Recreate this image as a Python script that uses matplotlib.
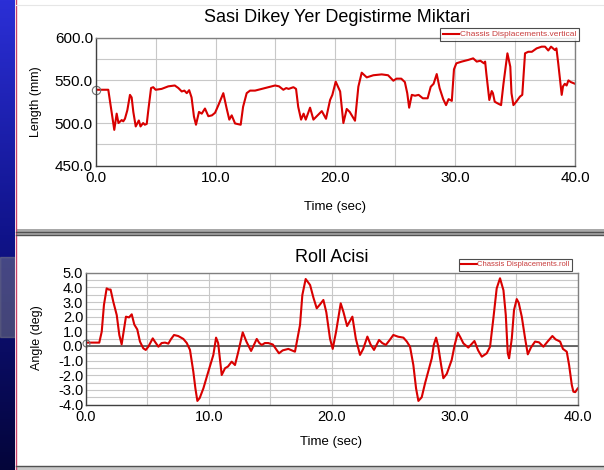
import numpy as np
import matplotlib
matplotlib.use('Agg')
import matplotlib.pyplot as plt
from matplotlib.lines import Line2D
from matplotlib.patches import Rectangle

plt.rcParams['font.family'] = ['Liberation Sans', 'DejaVu Sans']
plt.rcParams['axes.unicode_minus'] = False

# vertical chassis displacement (mm) vs time (s)
t_vert = [0.0, 1.05, 1.55, 1.75, 1.9, 2.17, 2.3, 2.44, 2.64, 2.86, 3.0, 3.14, 3.34, 3.6, 3.74,
          3.96, 4.1, 4.26, 4.39, 4.62, 4.8, 5.0, 5.5, 6.06, 6.6, 6.9, 7.18, 7.4, 7.6, 7.8, 8.0,
          8.2, 8.37, 8.62, 8.85, 9.12, 9.4, 9.7, 9.96, 10.24, 10.65, 10.93, 11.15, 11.35, 11.63,
          12.1, 12.3, 12.6, 12.88, 13.3, 13.86, 14.4, 14.97, 15.3, 15.66, 15.9, 16.1, 16.5,
          16.72, 16.9, 17.14, 17.35, 17.53, 17.89, 18.17, 18.45, 18.87, 19.22, 19.56, 19.75,
          20.03, 20.4, 20.67, 20.95, 21.2, 21.64, 21.92, 22.2, 22.62, 23.17, 23.87, 24.4, 24.84,
          25.1, 25.5, 25.8, 26.0, 26.16, 26.38, 26.65, 26.95, 27.3, 27.7, 27.96, 28.2, 28.46,
          28.7, 29.0, 29.24, 29.45, 29.72, 29.9, 30.1, 30.55, 31.1, 31.5, 31.8, 32.1, 32.4, 32.5,
          32.6, 32.85, 33.05, 33.15, 33.3, 33.55, 33.83, 34.03, 34.36, 34.6, 34.7, 34.86, 35.1,
          35.41, 35.6, 35.83, 36.1, 36.4, 36.8, 37.22, 37.5, 37.77, 38.0, 38.33, 38.45, 38.6,
          38.89, 39.0, 39.15, 39.3, 39.45, 39.65, 40.0]
vertical = [539, 539, 492, 511, 500, 503.5, 502, 505, 515, 533, 530, 513, 496, 503, 496,
            500, 498, 499, 515, 541, 542, 539, 540, 543, 544, 541, 537, 538, 535, 538.5, 530,
            507.5, 498, 513, 511, 517, 508, 509, 512, 521, 535, 517, 504, 509, 499.5,
            498, 519, 535, 538, 538, 540, 542, 544, 543, 539, 541, 540, 542,
            540, 519, 504, 511, 504, 518, 504, 508, 514, 505, 527, 533,
            548.5, 537, 500, 516.5, 513, 502.7, 542.6, 559, 553.5, 556, 557, 556, 549.6,
            552, 552, 548, 535, 518, 533, 532, 533, 529, 529, 542.5, 546, 557.4,
            541, 528, 521, 528, 526, 563, 570, 572, 574, 575.8, 572, 573, 570, 572,
            558, 527, 537.5, 535, 525, 523, 521, 546, 581.7, 566, 535, 521, 525,
            531, 533, 581.7, 583.5, 583.5, 587.5, 589.5, 589.5, 585, 589.5, 585.5, 587.5, 570,
            533, 543, 546, 544, 550, 548, 546]

# roll angle (deg) vs time (s)
t_roll = [0.0, 1.08, 1.28, 1.46, 1.68, 1.85, 2.0, 2.22, 2.5, 2.71, 2.9, 3.05, 3.25, 3.5, 3.72,
          3.93, 4.17, 4.39, 4.66, 4.86, 5.07, 5.43, 5.6, 5.89, 6.15, 6.43, 6.7, 6.9, 7.16, 7.5,
          7.92, 8.2, 8.46, 8.73, 8.9, 9.06, 9.25, 9.55, 9.95, 10.36, 10.58, 10.75, 11.04, 11.31,
          11.55, 11.85, 12.12, 12.39, 12.75, 13.05, 13.43, 13.89, 14.1, 14.3, 14.55, 14.83, 15.2,
          15.7, 16.0, 16.46, 17.0, 17.41, 17.6, 17.87, 18.23, 18.5, 18.77, 19.05, 19.31, 19.55,
          19.85, 20.07, 20.35, 20.72, 20.95, 21.24, 21.67, 21.95, 22.29, 22.55, 22.89, 23.15,
          23.43, 23.84, 24.1, 24.39, 24.7, 25.0, 25.4, 25.82, 26.1, 26.36, 26.63, 26.85, 27.04,
          27.31, 27.58, 27.85, 28.13, 28.3, 28.48, 28.65, 28.89, 29.07, 29.35, 29.75, 30.0,
          30.25, 30.45, 30.7, 31.1, 31.6, 31.9, 32.2, 32.6, 32.87, 33.14, 33.41, 33.68, 33.96,
          34.15, 34.31, 34.42, 34.64, 34.82, 35.04, 35.2, 35.45, 35.72, 35.94, 36.2, 36.53,
          36.85, 37.21, 37.55, 37.94, 38.2, 38.57, 38.8, 39.11, 39.3, 39.52, 39.65, 39.8, 40.0]
roll = [0.23, 0.23, 0.98, 2.8, 3.93, 3.85, 3.85, 3.02, 2.11, 0.75, 0.11, 0.9, 2.0, 1.95, 2.16,
        1.46, 1.13, 0.3, -0.16, -0.27, -0.05, 0.52, 0.3, -0.05, 0.2, 0.23, 0.16, 0.45, 0.75, 0.68,
        0.48, 0.2, -0.27, -1.75, -2.9, -3.75, -3.55, -2.89, -1.75, -0.61, 0.57, 0.2, -1.98, -1.52,
        -1.4, -1.07, -1.3, -0.39, 0.93, 0.3, -0.34, 0.48, 0.2, 0.07, 0.2, 0.2, 0.1,
        -0.5, -0.3, -0.2, -0.39, 1.43, 3.48, 4.57, 4.16, 3.3, 2.57, 2.85, 3.14, 2.3,
        0.5, -0.2, 1.0, 2.91, 2.3, 1.36, 2.0, 0.5, -0.61, -0.2, 0.64, 0.1,
        -0.27, 0.41, 0.2, 0.07, 0.4, 0.75, 0.63, 0.57, 0.3, -0.05, -1.3, -2.89, -3.75,
        -3.5, -2.55, -1.7, -0.84, 0.1, 0.57, 0.0, -1.3, -2.2, -1.9, -0.95, 0.1,
        0.9, 0.6, 0.18, -0.11, 0.34, -0.3, -0.73, -0.5, -0.05, 1.89, 3.93, 4.62, 3.8,
        2.11, -0.5, -0.84, 0.52, 2.46, 3.2, 2.95, 2.0, 0.52, -0.57, -0.1, 0.3,
        0.25, -0.05, 0.3, 0.68, 0.45, 0.3, -0.2, -0.39, -1.3, -2.66, -3.12, -3.15, -2.9]

W, H = 604, 470
RED = '#d80000'
GRID = '#c8c8c8'


def fx(px):
    return px / W


def fy(py):
    return 1 - py / H


fig = plt.figure(figsize=(6.04, 4.70), dpi=100)
fig.patch.set_facecolor('white')

# slide decoration on the left and panel separators
strip = fig.add_axes([0, 0, fx(15), 1])
grad = np.linspace(0, 1, 256).reshape(-1, 1)
cmap = matplotlib.colors.LinearSegmentedColormap.from_list('slide', ['#2b2fd6', '#10138a', '#04053a'])
strip.imshow(grad, aspect='auto', cmap=cmap, extent=[0, 1, 0, 1], origin='upper')
strip.add_patch(Rectangle((0, fy(337)), 1, (337 - 257) / H, color='#8a8a8a', alpha=0.45))
strip.set_xlim(0, 1)
strip.set_ylim(0, 1)
strip.axis('off')
fig.add_artist(Line2D([fx(15.5), fx(15.5)], [0, 1], color='#c8406a', lw=1.0))
fig.add_artist(Rectangle((fx(16), fy(236)), 1, 7 / H, color='#a8a8a8', lw=0))
fig.add_artist(Line2D([fx(16), 1], [fy(231.5)] * 2, color='#505050', lw=1.0))
fig.add_artist(Line2D([fx(16), 1], [fy(234.5)] * 2, color='#505050', lw=1.0))
fig.add_artist(Line2D([fx(16), 1], [fy(4.5)] * 2, color='#e6e6e6', lw=0.8))
fig.add_artist(Line2D([fx(16), 1], [fy(465.5)] * 2, color='#505050', lw=1.0))
fig.add_artist(Rectangle((fx(16), 0), 1, 4 / H, color='#c8c8c8', lw=0))


def style_axes(ax):
    ax.grid(True, which='both', color=GRID, lw=0.8)
    ax.set_axisbelow(True)
    for s in ax.spines.values():
        s.set_color('#808080')
        s.set_linewidth(1.0)
    ax.spines['left'].set_color('#404040')
    ax.spines['bottom'].set_color('#404040')
    ax.tick_params(which='both', length=0)
    ax.xaxis.set_major_formatter(matplotlib.ticker.FormatStrFormatter('%.1f'))
    ax.yaxis.set_major_formatter(matplotlib.ticker.FormatStrFormatter('%.1f'))


# ---- top panel: vertical displacement
ax1 = fig.add_axes([fx(95.7), fy(165.7), (575 - 95.7) / W, (165.7 - 37.7) / H])
style_axes(ax1)
ax1.plot(t_vert, vertical, color=RED, lw=1.5, label='Chassis Displacements.vertical')
ax1.plot(t_vert[0], vertical[0], 'o', ms=6, mfc='none', mec='#707070', mew=0.8, clip_on=False)
ax1.set_xlim(0, 40)
ax1.set_ylim(450, 600)
ax1.set_xticks([0, 10, 20, 30, 40])
ax1.set_xticks([5, 15, 25, 35], minor=True)
ax1.set_yticks([450, 500, 550, 600])
ax1.set_yticks([475, 525, 575], minor=True)
ax1.tick_params(axis='x', labelsize=11, pad=4)
ax1.tick_params(axis='y', labelsize=11, pad=2)
leg1 = ax1.legend(loc='lower right', bbox_to_anchor=(fx(579), fy(41)), bbox_transform=fig.transFigure,
                  fontsize=6, frameon=True, fancybox=False, edgecolor='#202020', borderpad=0.3,
                  handlelength=2.0, handletextpad=0.1, borderaxespad=0)
leg1.get_frame().set_linewidth(0.8)
for txt in leg1.get_texts():
    txt.set_color('#c83c3c')
fig.text(fx(337), fy(18), 'Sasi Dikey Yer Degistirme Miktari', ha='center', va='center', fontsize=13)
fig.text(fx(36), fy(102), 'Length (mm)', rotation=90, ha='center', va='center', fontsize=9)
fig.text(fx(335), fy(207), 'Time (sec)', ha='center', va='center', fontsize=9.5)

# ---- bottom panel: roll angle
ax2 = fig.add_axes([fx(86), fy(404.6), (577.7 - 86) / W, (404.6 - 272.7) / H])
style_axes(ax2)
ax2.axhline(0, color='#505050', lw=1.2, zorder=1.5)
ax2.plot(t_roll, roll, color=RED, lw=1.5, label='Chassis Displacements.roll')
ax2.plot(t_roll[0], roll[0], 'o', ms=5, mfc='none', mec='#707070', mew=0.8, clip_on=False)
ax2.set_xlim(0, 40)
ax2.set_ylim(-4, 5)
ax2.set_xticks([0, 10, 20, 30, 40])
ax2.set_xticks([5, 15, 25, 35], minor=True)
ax2.set_yticks(np.arange(-4, 6, 1))
ax2.set_yticks(np.arange(-3.5, 5, 1), minor=True)
ax2.tick_params(axis='x', labelsize=10.5, pad=4)
ax2.tick_params(axis='y', labelsize=10.5, pad=2)
leg2 = ax2.legend(loc='lower right', bbox_to_anchor=(fx(572), fy(270.7)), bbox_transform=fig.transFigure,
                  fontsize=5.5, frameon=True, fancybox=False, edgecolor='#202020', borderpad=0.3,
                  handlelength=2.0, handletextpad=0.1, borderaxespad=0)
leg2.get_frame().set_linewidth(0.8)
for txt in leg2.get_texts():
    txt.set_color('#c83c3c')
fig.text(fx(332), fy(257), 'Roll Acisi', ha='center', va='center', fontsize=13)
fig.text(fx(37), fy(338), 'Angle (deg)', rotation=90, ha='center', va='center', fontsize=9)
fig.text(fx(331), fy(442), 'Time (sec)', ha='center', va='center', fontsize=9.5)

fig.savefig('out.png', dpi=100)
